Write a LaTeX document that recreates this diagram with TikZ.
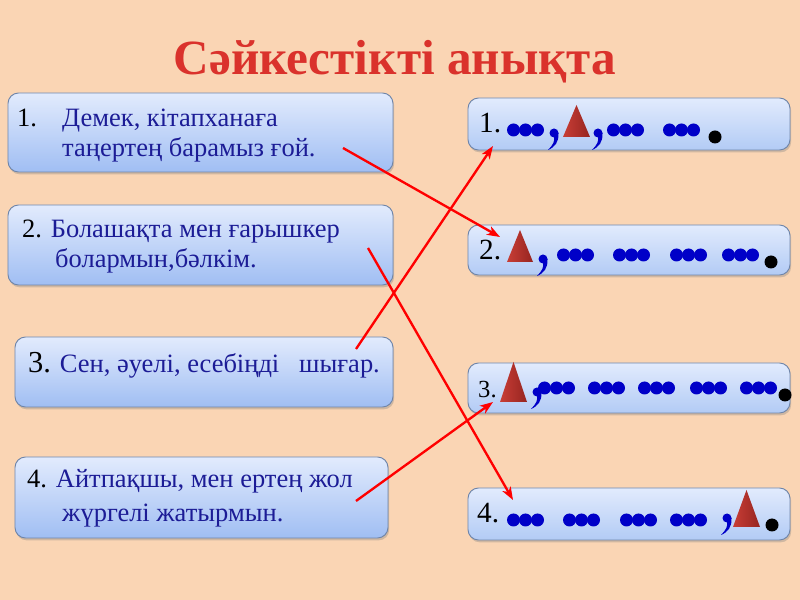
\documentclass[tikz,border=0pt]{standalone}
\usepackage{fontspec}
\setmainfont{Liberation Serif}
\usetikzlibrary{shadows,arrows.meta}
\definecolor{bgpeach}{RGB}{250,213,180}
\definecolor{titlered}{RGB}{218,50,44}
\definecolor{txtblue}{RGB}{28,28,150}
\definecolor{dotblue}{RGB}{0,0,200}
\definecolor{boxedge}{RGB}{112,134,170}
\definecolor{boxtop}{RGB}{226,235,253}
\definecolor{boxbot}{RGB}{160,190,243}
\definecolor{rboxbot}{RGB}{178,203,245}
\definecolor{triL}{RGB}{200,62,54}
\definecolor{triR}{RGB}{150,36,32}

\newcommand{\dotgroup}[2]{\foreach \k in {0,1,2} {\fill[dotblue] ({#1+6.5+12*\k},#2) circle (6.5);}}
\newcommand{\trimark}[4]{\shade[left color=triL, right color=triR] (#1,#4) -- ({(#1+#2)/2},#3) -- (#2,#4) -- cycle;}
\newcommand{\commamark}[2]{\fill[dotblue] (#1,#2) circle (4.5);
  \fill[dotblue] ({#1+4.5},#2) .. controls ({#1+5},{#2+9}) and ({#1+1},{#2+14}) .. ({#1-6},{#2+17}) .. controls ({#1-1},{#2+12}) and ({#1+1},{#2+8}) .. (#1,{#2+4}) -- cycle;}
\newcommand{\stopmark}[2]{\fill[black] (#1,#2) circle (6.5);}

\begin{document}
\begin{tikzpicture}[x=0.03cm, y=-0.03cm,
  lbox/.style={rounded corners=9pt, draw=boxedge, line width=0.8pt, top color=boxtop, bottom color=boxbot,
    drop shadow={shadow xshift=1pt, shadow yshift=-2pt, opacity=0.35}},
  rbox/.style={lbox, bottom color=rboxbot},
  ltext/.style={anchor=base west, inner sep=0pt, text=txtblue, font=\fontsize{22.6}{27}\selectfont},
  rnum/.style={anchor=base west, inner sep=0pt, font=\fontsize{25}{30}\selectfont},
  link/.style={-{Stealth[length=11pt,width=8pt,inset=3pt]}, red, line width=2pt}]
\useasboundingbox (0,0) rectangle (800,600);
\fill[bgpeach] (0,0) rectangle (800,600);

\node[anchor=base, inner sep=0pt, text=titlered, font=\fontsize{42}{50}\selectfont\bfseries] (title) at (395,75) {Сәйкестікті анықта};

% left boxes
\node[lbox, minimum width=11.55cm, minimum height=2.37cm] (l1) at (200.5,132.5) {};
\node[lbox, minimum width=11.55cm, minimum height=2.4cm] (l2) at (200.5,245) {};
\node[lbox, minimum width=11.34cm, minimum height=2.1cm] (l3) at (204,372) {};
\node[lbox, minimum width=11.19cm, minimum height=2.43cm] (l4) at (201.5,497.5) {};

\node[ltext] (t1n) at (17,127) {\textcolor{black}{1.}};
\node[ltext] (t1a) at (62,127) {Демек, кітапханаға};
\node[ltext] (t1b) at (62,157) {таңертең барамыз ғой.};
\node[ltext] (t2a) at (22,238) {\textcolor{black}{2.} Болашақта мен ғарышкер};
\node[ltext] (t2b) at (55,268) {болармын,бәлкім.};
\node[ltext] (t3a) at (28,373) {\textcolor{black}{\fontsize{26}{30}\selectfont 3.} Сен, әуелі, есебіңді \ \ шығар.};
\node[ltext] (t4a) at (27,488) {\textcolor{black}{4.} Айтпақшы, мен ертең жол};
\node[ltext] (t4b) at (62,522) {жүргелі жатырмын.};

% right boxes
\node[rbox, minimum width=9.66cm, minimum height=1.56cm] (r1) at (629,124) {};
\node[rbox, minimum width=9.66cm, minimum height=1.5cm] (r2) at (629,250) {};
\node[rbox, minimum width=9.66cm, minimum height=1.5cm] (r3) at (629,388) {};
\node[rbox, minimum width=9.66cm, minimum height=1.56cm] (r4) at (629,514) {};

\node[rnum] (n1) at (479,133) {1.};
\node[rnum] (n2) at (479,260) {2.};
\node[rnum, font=\fontsize{21}{25}\selectfont] (n3) at (478,398) {3.};
\node[rnum] (n4) at (477,523) {4.};

% row 1
\foreach \x in {507,607,663} {\dotgroup{\x}{130}}
\commamark{554}{133} \commamark{598}{133}
\trimark{563}{590}{105}{137}
\stopmark{715}{137}
% row 2
\trimark{507}{533}{230}{262}
\commamark{543}{259}
\foreach \x in {557,613,670,722} {\dotgroup{\x}{255}}
\stopmark{771}{262}
% row 3
\trimark{500}{527}{362}{402}
\commamark{537}{392}
\foreach \x in {538,588,638,690,740} {\dotgroup{\x}{388}}
\stopmark{785}{395}
% row 4
\foreach \x in {507,563,620,670} {\dotgroup{\x}{520}}
\commamark{727}{518}
\trimark{733}{760}{490}{527}
\stopmark{772}{525}

% links
\coordinate (a1) at (343,148); \coordinate (b2) at (500,237);
\coordinate (a2) at (368,248); \coordinate (b4) at (513,500);
\coordinate (a3) at (356,349); \coordinate (b1) at (493,146);
\coordinate (a4) at (356,501); \coordinate (b3) at (493,402);
\draw[link] (a1) -- (b2);
\draw[link] (a2) -- (b4);
\draw[link] (a3) -- (b1);
\draw[link] (a4) -- (b3);
\end{tikzpicture}
\end{document}
